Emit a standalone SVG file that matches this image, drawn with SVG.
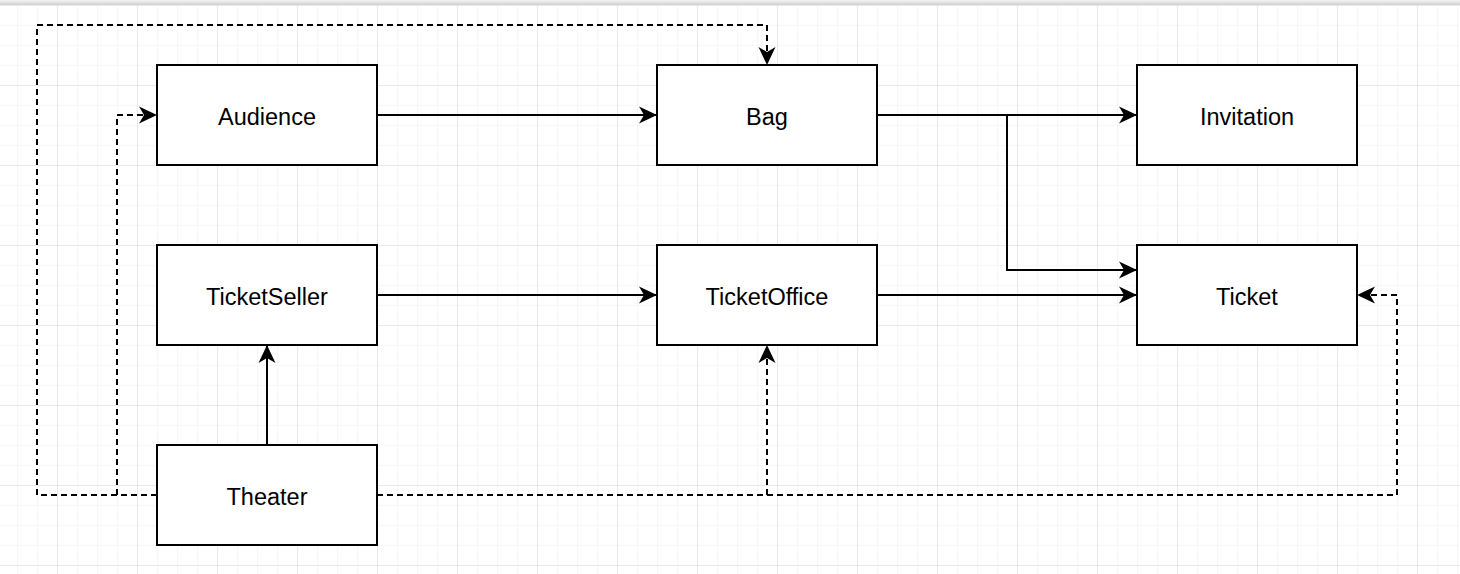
<svg xmlns="http://www.w3.org/2000/svg" width="1460" height="574" viewBox="0 0 1460 574">
<style>
.node rect{fill:#fff;stroke:#000;stroke-width:2}
.node text{font-family:"Liberation Sans",Arial,sans-serif;font-size:23.5px;fill:#000;text-anchor:middle;dominant-baseline:central}
.edge{fill:none;stroke:#000;stroke-width:2}
.dash{stroke-dasharray:6 4}
</style>
<defs>
<pattern id="minor" x="17" y="5" width="20" height="20" patternUnits="userSpaceOnUse">
<path d="M0 0H20M0 0V20" fill="none" stroke="#f0f0f0" stroke-width="1"/>
</pattern>
<pattern id="major" x="57" y="5" width="80" height="80" patternUnits="userSpaceOnUse">
<path d="M0 0H80M0 0V80" fill="none" stroke="#dcdcdc" stroke-width="1"/>
</pattern>
<linearGradient id="bar" x1="0" y1="0" x2="0" y2="1">
<stop offset="0" stop-color="#f4f4f4"/>
<stop offset="1" stop-color="#d0d0d0"/>
</linearGradient>
<marker id="arr" markerUnits="userSpaceOnUse" markerWidth="24" markerHeight="24" viewBox="-21 -12 24 24" refX="0" refY="0" orient="auto" overflow="visible">
<path d="M0 0L-18 -8.5L-13 0L-18 8.5Z" fill="#000" stroke="none"/>
</marker>
</defs>
<rect width="1460" height="574" fill="#fff"/>
<rect x="0" y="5" width="1460" height="569" fill="url(#minor)"/>
<rect x="0" y="5" width="1460" height="569" fill="url(#major)"/>
<rect x="0" y="0" width="1460" height="5" fill="url(#bar)"/>
<g id="connectors">
<path class="edge" d="M377 115H657" marker-end="url(#arr)"/>
<path class="edge" d="M877 115H1137" marker-end="url(#arr)"/>
<path class="edge" d="M1007 115V270H1137" marker-end="url(#arr)"/>
<path class="edge" d="M377 295H657" marker-end="url(#arr)"/>
<path class="edge" d="M877 295H1137" marker-end="url(#arr)"/>
<path class="edge" d="M267 445V345" marker-end="url(#arr)"/>
<path class="edge dash" d="M157 495H37V25H767V65" marker-end="url(#arr)"/>
<path class="edge dash" d="M157 495H117V115H157" marker-end="url(#arr)"/>
<path class="edge dash" d="M377 495H767V345" marker-end="url(#arr)"/>
<path class="edge dash" d="M767 495H1397V295H1357" marker-end="url(#arr)"/>
</g>
<g id="audience" class="node"><rect x="157" y="65" width="220" height="100"/><text x="267" y="116.5">Audience</text></g>
<g id="bag" class="node"><rect x="657" y="65" width="220" height="100"/><text x="767" y="116.5">Bag</text></g>
<g id="invitation" class="node"><rect x="1137" y="65" width="220" height="100"/><text x="1247" y="116.5">Invitation</text></g>
<g id="ticketseller" class="node"><rect x="157" y="245" width="220" height="100"/><text x="267" y="296.5">TicketSeller</text></g>
<g id="ticketoffice" class="node"><rect x="657" y="245" width="220" height="100"/><text x="767" y="296.5">TicketOffice</text></g>
<g id="ticket" class="node"><rect x="1137" y="245" width="220" height="100"/><text x="1247" y="296.5">Ticket</text></g>
<g id="theater" class="node"><rect x="157" y="445" width="220" height="100"/><text x="267" y="496.5">Theater</text></g>
</svg>
